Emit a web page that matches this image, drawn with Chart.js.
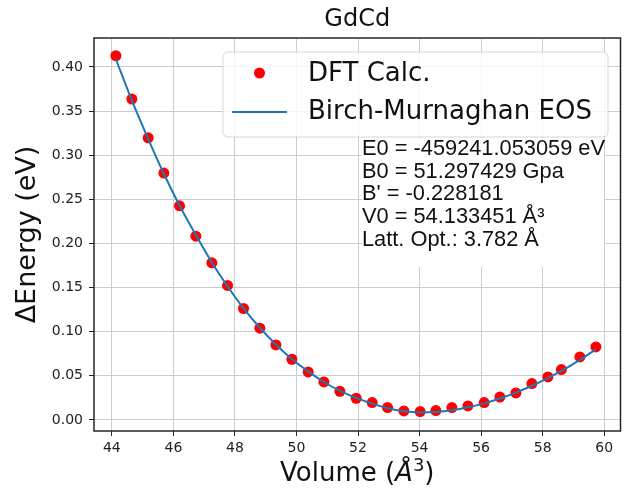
<!DOCTYPE html>
<html>
<head>
<meta charset="utf-8">
<script src="https://cdn.jsdelivr.net/npm/chart.js@4.4.0/dist/chart.umd.min.js"></script>
<style>
  html,body{margin:0;padding:0;background:#fff}
  #wrap{width:626px;height:492px}
</style>
</head>
<body>
<div id="wrap"><canvas id="eos" width="626" height="492"></canvas></div>
<script>
// DFT points (volume in A^3, delta energy in eV)
const volume = [44.13,44.65,45.18,45.69,46.20,46.73,47.25,47.76,48.28,48.81,49.33,49.85,50.38,50.89,51.41,51.94,
                52.46,52.96,53.49,54.02,54.53,55.05,55.57,56.10,56.61,57.13,57.65,58.17,58.61,59.21,59.73];
const energy = [0.4127,0.3636,0.3197,0.2797,0.2426,0.2083,0.1780,0.1524,0.1263,0.1040,0.0850,0.0688,0.0544,0.0431,0.0325,0.0246,
                0.0197,0.0141,0.0102,0.0095,0.0107,0.0141,0.0159,0.0197,0.0260,0.0306,0.0413,0.0488,0.0571,0.0714,0.0828];
// fitted Birch-Murnaghan curve, read at the same volumes
const fitVolume = volume;
const fitEnergy = [0.4090,0.3620,0.3185,0.2790,0.2430,0.2095,0.1785,0.1515,0.1265,0.1045,0.0855,0.0690,0.0550,0.0430,0.0330,0.0250,
                   0.0185,0.0133,0.0098,0.0085,0.0090,0.0110,0.0143,0.0188,0.0243,0.0310,0.0388,0.0475,0.0555,0.0680,0.0800];
const fitText = ['E0 = -459241.053059 eV','B0 = 51.297429 Gpa',"B' = -0.228181",'V0 = 54.133451 \u00c5\u00b3','Latt. Opt.: 3.782 \u00c5'];
const legendLabels = ['DFT Calc.','Birch-Murnaghan EOS'];
const chartTitle = 'GdCd';

const DV = '"DejaVu Sans", sans-serif';
const RED = '#ff0000', BLUE = '#1f77b4';

const deco = {
  id:'deco',
  afterDraw(chart){
    const ctx = chart.ctx, a = chart.chartArea;
    ctx.save();
    // frame
    ctx.strokeStyle = '#262626'; ctx.lineWidth = 1.5;
    ctx.strokeRect(a.left, a.top, a.right-a.left, a.bottom-a.top);
    const cx = (a.left+a.right)/2;
    // title
    ctx.fillStyle = '#111';
    ctx.font = '24px '+DV; ctx.textAlign = 'center'; ctx.textBaseline = 'middle';
    ctx.fillText(chartTitle, cx, 20);
    // y label
    ctx.save();
    ctx.translate(28, (a.top+a.bottom)/2); ctx.rotate(-Math.PI/2);
    ctx.font = '27px '+DV;
    ctx.fillText('\u0394Energy (eV)', 0, 0);
    ctx.restore();
    // x label with italic A-ring and superscript
    const parts = [['Volume (', '26px '+DV, 0], ['\u00c5', 'italic 26px '+DV, 0], ['3', '18px '+DV, -10], [')', '26px '+DV, 0]];
    let tw = 0; parts.forEach(p=>{ ctx.font = p[1]; p.w = ctx.measureText(p[0]).width; tw += p.w; });
    let x = cx - tw/2; ctx.textAlign = 'left'; ctx.textBaseline = 'alphabetic';
    parts.forEach(p=>{ ctx.font = p[1]; ctx.fillText(p[0], x, 481 + p[2]); x += p.w; });
    // legend
    const lx = 223, ly = 52, lw = 385, lh = 85, r = 5;
    ctx.beginPath();
    ctx.moveTo(lx+r, ly); ctx.arcTo(lx+lw, ly, lx+lw, ly+lh, r); ctx.arcTo(lx+lw, ly+lh, lx, ly+lh, r);
    ctx.arcTo(lx, ly+lh, lx, ly, r); ctx.arcTo(lx, ly, lx+lw, ly, r); ctx.closePath();
    ctx.fillStyle = 'rgba(255,255,255,0.8)'; ctx.fill();
    ctx.strokeStyle = 'rgba(204,204,204,0.8)'; ctx.lineWidth = 1; ctx.stroke();
    ctx.fillStyle = RED; ctx.beginPath(); ctx.arc(259.5, 73, 5.5, 0, Math.PI*2); ctx.fill();
    ctx.strokeStyle = BLUE; ctx.lineWidth = 2; ctx.beginPath(); ctx.moveTo(232, 112); ctx.lineTo(287, 112); ctx.stroke();
    ctx.fillStyle = '#111'; ctx.font = '26px '+DV; ctx.textBaseline = 'middle';
    ctx.fillText(legendLabels[0], 308, 74);
    ctx.fillText(legendLabels[1], 308, 112);
    // fit parameter box
    ctx.fillStyle = '#fff'; ctx.fillRect(362, 138, 242, 129);
    ctx.fillStyle = '#111'; ctx.font = '21.8px "Liberation Sans", Arial, sans-serif';
    fitText.forEach((t,i)=> ctx.fillText(t, 362, 149 + i*22.7));
    ctx.restore();
  }
};

new Chart(document.getElementById('eos'), {
  type:'scatter',
  data:{ datasets:[
    { label:legendLabels[1], data: fitVolume.map((v,i)=>({x:v, y:fitEnergy[i]})), showLine:true,
      borderColor:BLUE, borderWidth:2, pointRadius:0, cubicInterpolationMode:'monotone', order:0 },
    { label:legendLabels[0], data: volume.map((v,i)=>({x:v, y:energy[i]})), showLine:false,
      backgroundColor:RED, borderColor:RED, pointRadius:5.5, pointBorderWidth:0, order:1 }
  ]},
  options:{
    responsive:false, animation:false, devicePixelRatio:1,
    layout:{ padding:{ top:38, right:4, left:0, bottom:0 } },
    plugins:{ legend:{display:false}, title:{display:false}, tooltip:{enabled:false} },
    scales:{
      x:{ type:'linear', min:43.42, max:60.53,
          afterFit:s=>{ s.height = 61; },
          ticks:{ stepSize:2, includeBounds:false, padding:4, color:'#222', font:{family:DV, size:14} },
          grid:{ color:'#cccccc', lineWidth:1, tickColor:'#262626', tickLength:5 },
          border:{ display:false } },
      y:{ min:-0.0125, max:0.4328,
          afterFit:s=>{ s.width = 94; },
          ticks:{ stepSize:0.05, includeBounds:false, padding:6, color:'#222', font:{family:DV, size:14},
                  callback:v=>v.toFixed(2) },
          grid:{ color:'#cccccc', lineWidth:1, tickColor:'#262626', tickLength:5 },
          border:{ display:false } }
    }
  },
  plugins:[deco]
});
</script>
</body>
</html>
